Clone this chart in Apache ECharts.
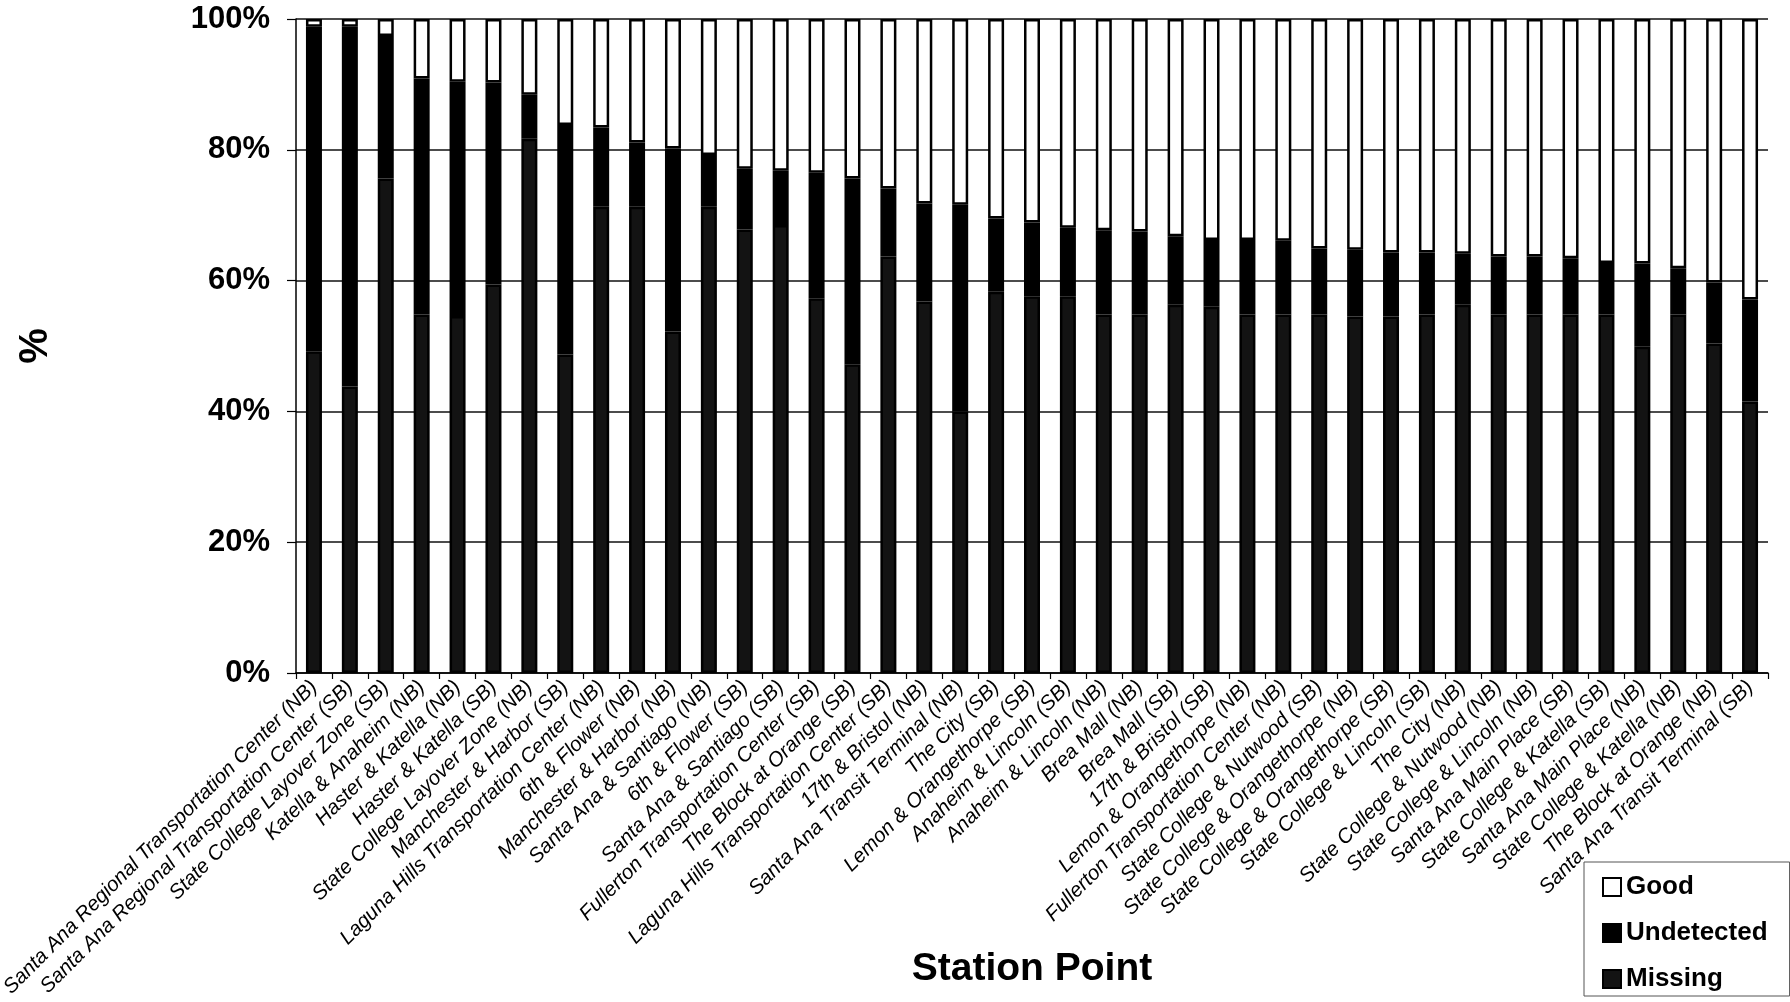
<!DOCTYPE html>
<html>
<head>
<meta charset="utf-8">
<script src="https://cdn.jsdelivr.net/npm/echarts@6/dist/echarts.min.js"></script>
<style>
html,body{margin:0;padding:0;background:#fff;}
#chart{width:1790px;height:1002px;}
</style>
</head>
<body>
<div id="chart"></div>
<script>
const categories = [
  "Santa Ana Regional Transportation Center (NB)",
  "Santa Ana Regional Transportation Center (SB)",
  "State College Layover Zone (SB)",
  "Katella & Anaheim (NB)",
  "Haster & Katella (NB)",
  "Haster & Katella (SB)",
  "State College Layover Zone (NB)",
  "Manchester & Harbor (SB)",
  "Laguna Hills Transportation Center (NB)",
  "6th & Flower (NB)",
  "Manchester & Harbor (NB)",
  "Santa Ana & Santiago (NB)",
  "6th & Flower (SB)",
  "Santa Ana & Santiago (SB)",
  "Fullerton Transportation Center (SB)",
  "The Block at Orange (SB)",
  "Laguna Hills Transportation Center (SB)",
  "17th & Bristol (NB)",
  "Santa Ana Transit Terminal (NB)",
  "The City (SB)",
  "Lemon & Orangethorpe (SB)",
  "Anaheim & Lincoln (SB)",
  "Anaheim & Lincoln (NB)",
  "Brea Mall (NB)",
  "Brea Mall (SB)",
  "17th & Bristol (SB)",
  "Lemon & Orangethorpe (NB)",
  "Fullerton Transportation Center (NB)",
  "State College & Nutwood (SB)",
  "State College & Orangethorpe (NB)",
  "State College & Orangethorpe (SB)",
  "State College & Lincoln (SB)",
  "The City (NB)",
  "State College & Nutwood (NB)",
  "State College & Lincoln (NB)",
  "Santa Ana Main Place (SB)",
  "State College & Katella (SB)",
  "Santa Ana Main Place (NB)",
  "State College & Katella (NB)",
  "The Block at Orange (NB)",
  "Santa Ana Transit Terminal (SB)"
];
const missing = [49.2,43.8,75.6,54.8,54.6,59.4,81.7,48.7,71.3,71.3,52.2,71.3,67.8,68.5,57.3,47.2,63.7,56.8,40.0,58.3,57.6,57.6,54.8,54.8,56.3,56.0,54.8,54.8,54.8,54.5,54.5,54.8,56.3,54.8,54.8,54.8,54.8,49.9,54.8,50.4,41.5];
const undetected = [49.6,55.0,21.8,36.1,35.8,30.9,6.7,35.1,12.1,9.8,28.0,7.9,9.3,8.3,19.2,28.4,10.4,15.0,31.6,11.2,11.3,10.5,12.9,12.7,10.5,10.2,11.4,11.3,10.1,10.2,9.8,9.5,7.8,8.9,8.9,8.6,7.9,12.7,7.1,9.3,15.6];
const good = [1.2,1.2,2.6,9.1,9.6,9.7,11.6,16.2,16.6,18.9,19.8,20.8,22.9,23.2,23.5,24.4,25.9,28.2,28.4,30.5,31.1,31.9,32.3,32.5,33.2,33.8,33.8,33.9,35.1,35.3,35.7,35.7,35.9,36.3,36.3,36.6,37.3,37.4,38.1,40.3,42.9];
const yTicks = [0,20,40,60,80,100];

const chart = echarts.init(document.getElementById('chart'), null, {renderer:'canvas'});
const FONT = '"Liberation Sans", Arial, sans-serif';
const barW = 16;
const border = {borderColor:'#000', borderWidth:2.5};
chart.setOption({
  animation:false,
  backgroundColor:'#fff',
  grid:{left:296, right:22, top:19, bottom:329, outerBoundsMode:'none', containLabel:false},
  legend:{
    orient:'vertical',
    left:1584, top:862,
    data:['Good','Undetected','Missing'],
    itemWidth:18, itemHeight:18, itemGap:18,
    padding:[11,22,3,18],
    borderColor:'#555', borderWidth:1,
    icon:'rect',
    textStyle:{fontFamily:FONT, fontWeight:'bold', fontSize:26, lineHeight:28, color:'#000', padding:[0,0,0,0]}
  },
  xAxis:{
    type:'category',
    data:categories,
    name:'Station Point',
    nameLocation:'middle',
    nameGap:277,
    nameMoveOverlap:false,
    nameTextStyle:{fontFamily:FONT, fontWeight:'bold', fontSize:39, color:'#000', verticalAlign:'top'},
    axisLine:{lineStyle:{color:'#000', width:1.5}},
    axisTick:{show:true, length:6, lineStyle:{color:'#000', width:1.2}},
    axisLabel:{rotate:45, interval:0, fontFamily:FONT, fontStyle:'italic', fontSize:20.5, color:'#000', margin:11}
  },
  yAxis:{
    type:'value',
    min:0, max:100, interval:20,
    name:'%',
    nameLocation:'middle',
    nameGap:240,
    nameRotate:90,
    nameMoveOverlap:false,
    nameTextStyle:{fontFamily:FONT, fontWeight:'bold', fontSize:40, color:'#000'},
    axisLine:{show:true, lineStyle:{color:'#000', width:1.5}},
    axisTick:{show:true, length:9, lineStyle:{color:'#000', width:1.2}},
    axisLabel:{fontFamily:FONT, fontWeight:'bold', fontSize:31, color:'#000', margin:26,
      formatter:function(v){ return yTicks.indexOf(v) >= 0 ? v + '%' : ''; }},
    splitLine:{show:true, lineStyle:{color:'#111', width:1.5}}
  },
  series:[
    {name:'Missing', type:'bar', stack:'s', barWidth:barW, data:missing,
      itemStyle:Object.assign({color:'#131313'}, border)},
    {name:'Undetected', type:'bar', stack:'s', barWidth:barW, data:undetected,
      itemStyle:Object.assign({color:'#000'}, border)},
    {name:'Good', type:'bar', stack:'s', barWidth:barW, data:good,
      itemStyle:Object.assign({color:'#fff'}, border)}
  ]
});
</script>
</body>
</html>
